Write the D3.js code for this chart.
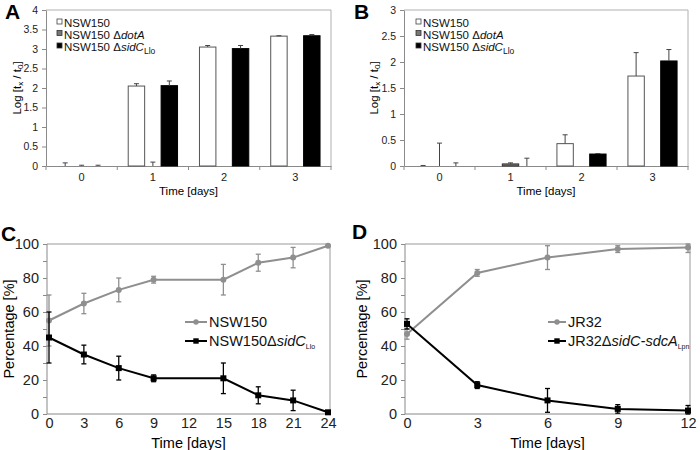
<!DOCTYPE html>
<html><head><meta charset="utf-8">
<script src="https://cdn.jsdelivr.net/npm/d3@7"></script>
<style>body{margin:0;background:#fff}svg{display:block;font-family:"Liberation Sans",Arial,sans-serif}</style>
</head><body>
<svg id="c" width="700" height="450"></svg>
<script>
// ---- data ----
const barCategories = ["0","1","2","3"];
const barSeries = ["NSW150","NSW150 ΔdotA","NSW150 ΔsidC"];
const aTicks = [0,0.5,1,1.5,2,2.5,3,3.5,4];
const aWT = [0, 2.05, 3.05, 3.33];
const aWTErr = [0.08, 0.06, 0.04, 0.01];
const aDotA = [0, 0, 0, 0];
const aDotAErr = [0.02, 0.1, 0, 0];
const aSidC = [0, 2.06, 3.01, 3.34];
const aSidCErr = [0.02, 0.12, 0.08, 0.03];
const bTicks = [0,0.5,1,1.5,2,2.5,3];
const bWT = [0, 0, 0.43, 1.73];
const bWTErr = [0.01, 0, 0.17, 0.45];
const bDotA = [0, 0.04, 0, 0];
const bDotAErr = [0.44, 0.02, 0, 0];
const bSidC = [0, 0, 0.23, 2.02];
const bSidCErr = [0.06, 0.15, 0.01, 0.22];

const cDays = [0,3,6,9,15,18,21,24];
const cXTicks = [0,3,6,9,12,15,18,21,24];
const cWT = [55,65,73,79,79,89,92,99];
const cWTErr = [15,6,7,2,9,5,6,0];
const cMut = [45,35,27,21,21,11,8,1];
const cMutErr = [15,5.5,7,2,9,5,6,0];

const dDays = [0,3,6,9,12];
const dXTicks = [0,3,6,9,12];
const dWT = [47,83,92,97,98];
const dWTErr = [3,2,7,2,3];
const dMut = [53,17,8,3,2];
const dMutErr = [3,2,7,2.5,3];
const pctTicks = [0,20,40,60,80,100];

const svg = d3.select("#c");
const AX = "#8a8a8a";

function panelLabel(t, x, y){
  svg.append("text").attr("x",x).attr("y",y).attr("font-size",21).attr("font-weight","bold").text(t);
}

function barPanel(o){
  const x = d3.scaleBand().domain(barCategories).range([o.x0,o.x1]);
  const sub = d3.scaleBand().domain(barSeries).range([0,x.bandwidth()]).paddingInner(0).paddingOuter(0.667);
  const y = d3.scaleLinear().domain([0,o.max]).range([o.y1,o.y0]);
  const g = svg.append("g");
  // frame
  g.append("path").attr("d",`M${o.x0},${o.y0}H${o.x1}V${o.y1}`).attr("fill","none").attr("stroke","#b0b0b0");
  // y axis
  const ya = g.append("g").attr("transform",`translate(${o.x0},0)`)
    .call(d3.axisLeft(y).tickValues(o.ticks).tickSize(4).tickSizeOuter(0).tickFormat(d3.format("")));
  ya.select(".domain").attr("stroke",AX);
  ya.selectAll(".tick line").attr("stroke",AX);
  ya.selectAll("text").attr("font-size",10.5).attr("fill","#222").attr("font-family","Liberation Sans, Arial").attr("dx",-1);
  // x axis
  const xa = g.append("g").attr("transform",`translate(0,${o.y1})`)
    .call(d3.axisBottom(x).tickSize(0).tickPadding(7));
  xa.select(".domain").attr("stroke",AX);
  xa.selectAll("text").attr("font-size",11).attr("fill","#222").attr("font-family","Liberation Sans, Arial");
  g.selectAll(".sep").data(barCategories.slice(1)).enter().append("line")
    .attr("x1",d=>x(d)).attr("x2",d=>x(d)).attr("y1",o.y1).attr("y2",o.y1+4).attr("stroke",AX);
  [o.x0,o.x1].forEach(v=>g.append("line").attr("x1",v).attr("x2",v).attr("y1",o.y1).attr("y2",o.y1+4).attr("stroke",AX));
  // bars
  const fills = ["#fff","#777","#000"];
  const strokes = ["#555","#333","#000"];
  o.series.forEach((s,si)=>{
    const name = barSeries[si];
    barCategories.forEach((c,ci)=>{
      const v = s.v[ci], e = s.e[ci];
      const bx = x(c)+sub(name), bw = sub.bandwidth();
      if (v>0) g.append("rect").attr("x",bx).attr("y",y(v)).attr("width",bw).attr("height",y(0)-y(v))
        .attr("fill",fills[si]).attr("stroke",strokes[si]).attr("stroke-width",1);
      if (e>0){
        const cx = bx+bw/2;
        g.append("line").attr("x1",cx).attr("x2",cx).attr("y1",y(v)).attr("y2",y(v+e)).attr("stroke","#444");
        g.append("line").attr("x1",cx-2.5).attr("x2",cx+2.5).attr("y1",y(v+e)).attr("y2",y(v+e)).attr("stroke","#444");
      }
    });
  });
  // legend
  const lg = g.append("g").attr("font-size",11.5).attr("fill","#111");
  const rows = [o.ly, o.ly+11.5, o.ly+24];
  barSeries.forEach((n,i)=>{
    lg.append("rect").attr("x",o.lx).attr("y",rows[i]-4).attr("width",5).attr("height",5)
      .attr("fill",fills[i]).attr("stroke",i==0?"#444":"#333").attr("stroke-width",0.8);
    const t = lg.append("text").attr("x",o.lx+7).attr("y",rows[i]+4);
    if(i==0) t.text("NSW150");
    else if(i==1){ t.append("tspan").text("NSW150 Δ"); t.append("tspan").attr("font-style","italic").text("dotA"); }
    else { t.append("tspan").text("NSW150 Δ"); t.append("tspan").attr("font-style","italic").text("sidC");
      t.append("tspan").attr("font-size",8.5).attr("dy",3).text("Llo"); }
  });
  // titles
  g.append("text").attr("x",(o.x0+o.x1)/2).attr("y",o.y1+29).attr("text-anchor","middle").attr("font-size",11.5).text("Time [days]");
  const yl = g.append("text").attr("transform",`translate(${o.ylx},${(o.y0+o.y1)/2}) rotate(-90)`).attr("text-anchor","middle").attr("font-size",11.5);
  yl.append("tspan").text("Log [t");
  yl.append("tspan").attr("font-size",8).attr("dy",2).text("x");
  yl.append("tspan").attr("dy",-2).text(" / t");
  yl.append("tspan").attr("font-size",8).attr("dy",2).text("0");
  yl.append("tspan").attr("dy",-2).text("]");
}

function linePanel(o){
  const x = d3.scaleLinear().domain([0,o.xmax]).range([o.px0,o.px1]);
  const y = d3.scaleLinear().domain([0,100]).range([o.y1,o.y0]);
  const g = svg.append("g");
  g.append("path").attr("d",`M${o.x0},${o.y0}H${o.x1}V${o.y1}`).attr("fill","none").attr("stroke","#999");
  g.append("path").attr("d",`M${o.x0},${o.y0}V${o.y1}H${o.x1}`).attr("fill","none").attr("stroke","#888");
  // y ticks (minor every 10)
  const ya = g.append("g").attr("transform",`translate(${o.x0},0)`)
    .call(d3.axisLeft(y).tickValues(d3.range(0,101,10)).tickSize(4).tickSizeOuter(0).tickFormat(d=>d%20==0?d:""));
  ya.select(".domain").remove();
  ya.selectAll(".tick line").attr("stroke",AX);
  ya.selectAll("text").attr("font-size",14.5).attr("fill","#222").attr("font-family","Liberation Sans, Arial").attr("dx",-1);
  const xa = g.append("g").attr("transform",`translate(0,${o.y1})`)
    .call(d3.axisBottom(x).tickValues(o.xticks).tickSize(0).tickPadding(4));
  xa.select(".domain").remove();
  xa.selectAll("text").attr("font-size",14.5).attr("fill","#222").attr("font-family","Liberation Sans, Arial");
  g.append("text").attr("x",(o.x0+o.x1)/2).attr("y",o.y1+34).attr("text-anchor","middle").attr("font-size",14.5).text("Time [days]");
  g.append("text").attr("transform",`translate(${o.ylx},${(o.y0+o.y1)/2}) rotate(-90)`).attr("text-anchor","middle").attr("font-size",14.5).text("Percentage [%]");
  const line = d3.line().x(d=>x(d[0])).y(d=>y(d[1]));
  const series = [
    {v:o.wt, e:o.wtErr, c:"#8f8f8f", m:"circle"},
    {v:o.mut, e:o.mutErr, c:"#000", m:"square"}
  ];
  series.forEach(s=>{
    const pts = o.days.map((d,i)=>[d,s.v[i],s.e[i]]);
    pts.forEach(p=>{
      if(p[2]>0){
        const cx=x(p[0]), yt=y(Math.min(100,p[1]+p[2])), yb=y(Math.max(0,p[1]-p[2]));
        g.append("line").attr("x1",cx).attr("x2",cx).attr("y1",yt).attr("y2",yb).attr("stroke",s.c).attr("stroke-width",1.3);
        [yt,yb].forEach(yy=>g.append("line").attr("x1",cx-2.5).attr("x2",cx+2.5).attr("y1",yy).attr("y2",yy).attr("stroke",s.c).attr("stroke-width",1.3));
      }
    });
    g.append("path").datum(pts).attr("d",line).attr("fill","none").attr("stroke",s.c).attr("stroke-width",2);
    pts.forEach(p=>{
      if(s.m=="circle") g.append("circle").attr("cx",x(p[0])).attr("cy",y(p[1])).attr("r",3).attr("fill",s.c);
      else g.append("rect").attr("x",x(p[0])-3).attr("y",y(p[1])-3).attr("width",6).attr("height",6).attr("fill",s.c);
    });
  });
  // legend
  const lg = g.append("g").attr("font-size",14.5).attr("fill","#111");
  const rows=[o.ly,o.ly+19];
  series.forEach((s,i)=>{
    lg.append("line").attr("x1",o.lx).attr("x2",o.lx+o.lw).attr("y1",rows[i]).attr("y2",rows[i]).attr("stroke",s.c).attr("stroke-width",2);
    const mx=o.lx+o.lw/2;
    if(s.m=="circle") lg.append("circle").attr("cx",mx).attr("cy",rows[i]).attr("r",2.7).attr("fill",s.c);
    else lg.append("rect").attr("x",mx-2.7).attr("y",rows[i]-2.7).attr("width",5.4).attr("height",5.4).attr("fill",s.c);
    const t=lg.append("text").attr("x",o.lx+o.lw+2).attr("y",rows[i]+5);
    o.names[i].forEach(part=>{
      const ts=t.append("tspan").text(part.t);
      if(part.i) ts.attr("font-style","italic");
      if(part.sub) ts.attr("font-size",7).attr("dy",3);
    });
  });
}

panelLabel("A",5,19);
barPanel({x0:46,x1:331,y0:10,y1:166,max:4,ticks:aTicks,
  series:[{v:aWT,e:aWTErr},{v:aDotA,e:aDotAErr},{v:aSidC,e:aSidCErr}],lx:57,ly:23,ylx:21});
panelLabel("B",354,19);
barPanel({x0:404,x1:688,y0:10,y1:166,max:3,ticks:bTicks,
  series:[{v:bWT,e:bWTErr},{v:bDotA,e:bDotAErr},{v:bSidC,e:bSidCErr}],lx:416,ly:23,ylx:378});

panelLabel("C",1,241);
linePanel({x0:47,x1:330,px0:49,px1:328,y0:244,y1:414,xmax:24,xticks:cXTicks,days:cDays,
  wt:cWT,wtErr:cWTErr,mut:cMut,mutErr:cMutErr,lx:185,lw:22,ly:322,ylx:14,
  names:[[{t:"NSW150"}],[{t:"NSW150Δ"},{t:"sidC",i:true},{t:"Llo",sub:true}]]});
panelLabel("D",352,239);
linePanel({x0:405,x1:690,px0:407,px1:688,y0:244,y1:414,xmax:12,xticks:dXTicks,days:dDays,
  wt:dWT,wtErr:dWTErr,mut:dMut,mutErr:dMutErr,lx:548,lw:18,ly:322,ylx:367,
  names:[[{t:"JR32"}],[{t:"JR32Δ"},{t:"sidC-sdcA",i:true},{t:"Lpn",sub:true}]]});
</script>
</body></html>
